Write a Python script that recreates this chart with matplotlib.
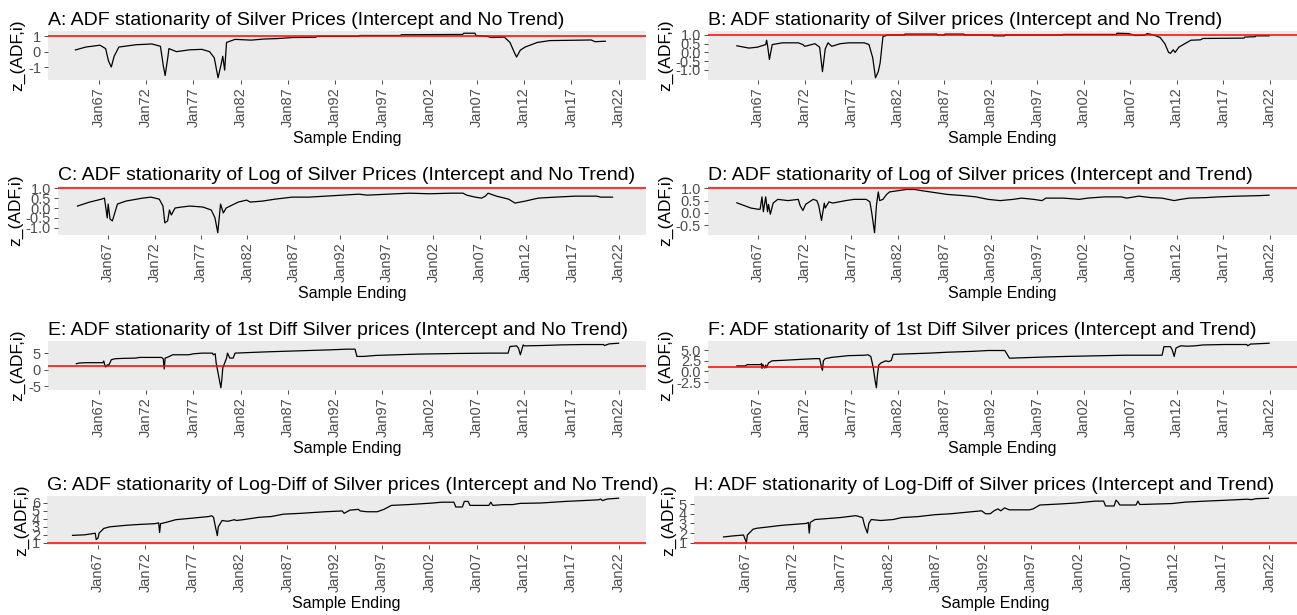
import numpy as np
import matplotlib
matplotlib.use("Agg")
import matplotlib.pyplot as plt

plt.rcParams['font.family'] = ['Liberation Sans', 'DejaVu Sans']

# ---- data: sample ending (decimal year) and z_(ADF,i) values ----
a_years = [1964.5, 1965.6, 1967.1, 1967.7, 1968.0, 1968.3, 1968.6, 1969.1, 1970.9, 1972.6,
           1973.5, 1973.8, 1974.0, 1974.3, 1974.4, 1975.2, 1976.6, 1977.9, 1978.7, 1979.2,
           1979.6, 1979.9, 1980.1, 1980.3, 1980.5, 1981.4, 1983.1, 1984.4, 1985.8, 1987.5,
           1989.9, 1990.1, 1994.5, 1994.6, 1998.9, 1999.0, 2005.5, 2005.6, 2006.8, 2006.9,
           2008.1, 2008.5, 2009.9, 2010.5, 2011.0, 2011.2, 2011.6, 2012.1, 2013.4, 2014.7,
           2019.1, 2019.5, 2020.6]
a_vals = [0.11, 0.3, 0.42, 0.2, -0.6, -1.0, -0.3, 0.3, 0.45, 0.5,
          0.35, -0.9, -1.55, -0.3, 0.2, 0.0, 0.12, 0.15, 0.0, -0.4,
          -1.7, -0.9, -0.3, -1.2, 0.6, 0.8, 0.75, 0.82, 0.85, 0.92,
          0.93, 1.0, 1.0, 1.05, 1.05, 1.1, 1.12, 1.2, 1.2, 1.05,
          1.0, 0.92, 0.95, 0.6, -0.1, -0.35, 0.1, 0.3, 0.6, 0.72,
          0.76, 0.65, 0.68]

b_years = [1964.7, 1966.0, 1966.9, 1967.8, 1967.9, 1968.0, 1968.2, 1968.5, 1969.6, 1971.3,
           1971.8, 1972.0, 1973.1, 1973.6, 1973.9, 1974.2, 1974.5, 1974.9, 1975.8, 1976.7,
           1978.4, 1978.9, 1979.3, 1979.6, 1979.9, 1980.1, 1980.4, 1980.9, 1982.7, 1982.75,
           1986.2, 1986.25, 1987.0, 1987.05, 1989.1, 1989.15, 1992.2, 1992.25, 1993.5, 1993.55,
           1999.7, 1999.75, 2005.5, 2005.55, 2006.8, 2007.5, 2008.5, 2008.8, 2009.5, 2010.2,
           2010.7, 2011.1, 2011.3, 2011.6, 2011.8, 2012.2, 2013.0, 2013.5, 2014.5, 2014.8,
           2019.2, 2019.3, 2020.4, 2020.5, 2021.9]
b_vals = [0.38, 0.25, 0.3, 0.45, 0.7, 0.4, -0.4, 0.45, 0.55, 0.55,
          0.45, 0.35, 0.5, 0.3, -1.1, 0.2, 0.55, 0.35, 0.5, 0.55,
          0.55, 0.45, -0.3, -1.45, -1.1, -0.6, 0.9, 1.0, 1.0, 1.05,
          1.05, 1.0, 1.0, 1.05, 1.05, 1.0, 1.0, 0.95, 0.95, 1.0,
          1.0, 1.03, 1.03, 1.1, 1.08, 0.97, 0.98, 1.08, 1.0, 0.85,
          0.5, 0.0, -0.05, 0.15, 0.0, 0.3, 0.55, 0.7, 0.72, 0.8,
          0.82, 0.88, 0.9, 0.95, 0.95]

c_years = [1963.7, 1965.0, 1966.3, 1966.6, 1966.9, 1967.0, 1967.2, 1967.45, 1968.0, 1968.9,
           1970.7, 1971.6, 1972.5, 1972.9, 1973.1, 1973.4, 1973.6, 1973.8, 1974.2, 1974.9,
           1975.8, 1977.2, 1978.1, 1978.5, 1978.8, 1979.1, 1979.4, 1979.7, 1981.0, 1981.9,
           1982.3, 1983.6, 1985.0, 1986.8, 1988.6, 1990.4, 1992.2, 1994.0, 1994.9, 1997.1,
           1999.4, 2001.6, 2003.9, 2005.2, 2005.6, 2006.5, 2007.2, 2007.6, 2007.9, 2008.8,
           2010.1, 2010.8, 2011.9, 2013.3, 2015.1, 2017.3, 2019.6, 2020.0, 2021.3]
c_vals = [0.1, 0.3, 0.45, 0.5, -0.5, 0.2, -0.55, -0.65, 0.2, 0.35,
          0.5, 0.55, 0.45, 0.1, -0.75, -0.65, -0.1, -0.35, 0.0, 0.05,
          0.1, 0.05, -0.1, -0.5, -1.25, 0.2, -0.25, 0.0, 0.3, 0.4,
          0.3, 0.35, 0.45, 0.55, 0.55, 0.6, 0.65, 0.7, 0.65, 0.7,
          0.75, 0.72, 0.75, 0.75, 0.65, 0.55, 0.5, 0.6, 0.75, 0.6,
          0.45, 0.25, 0.35, 0.5, 0.55, 0.6, 0.6, 0.55, 0.55]

d_years = [1964.7, 1966.2, 1967.0, 1967.2, 1967.4, 1967.55, 1967.8, 1968.0, 1968.1, 1968.3,
           1968.6, 1969.1, 1970.2, 1971.3, 1971.5, 1971.8, 1972.1, 1972.9, 1973.3, 1973.5,
           1973.8, 1974.1, 1974.2, 1974.6, 1975.0, 1976.4, 1977.3, 1978.6, 1979.0, 1979.2,
           1979.5, 1979.7, 1979.9, 1980.05, 1980.4, 1980.8, 1981.1, 1982.0, 1982.9, 1983.8,
           1984.6, 1985.5, 1986.4, 1987.3, 1989.1, 1990.4, 1991.7, 1993.0, 1994.4, 1995.3,
           1996.6, 1997.5, 1997.9, 1999.8, 2001.5, 2002.4, 2004.2, 2006.0, 2006.6, 2007.9,
           2009.2, 2010.4, 2011.7, 2012.4, 2013.3, 2015.1, 2016.4, 2018.6, 2020.8, 2021.9]
d_vals = [0.41, 0.2, 0.15, 0.15, 0.65, 0.05, 0.65, 0.05, 0.35, -0.05,
          0.4, 0.55, 0.5, 0.55, 0.3, 0.1, 0.35, 0.55, 0.5, 0.3,
          -0.3, 0.4, 0.2, 0.45, 0.4, 0.5, 0.55, 0.55, 0.45, 0.0,
          -0.8, 0.3, 0.85, 0.5, 0.55, 0.75, 0.85, 0.9, 0.95, 0.95,
          0.9, 0.85, 0.8, 0.75, 0.7, 0.65, 0.55, 0.5, 0.55, 0.6,
          0.55, 0.5, 0.6, 0.6, 0.55, 0.6, 0.65, 0.65, 0.6, 0.68,
          0.62, 0.6, 0.5, 0.55, 0.6, 0.62, 0.65, 0.68, 0.7, 0.72]

e_years = [1964.6, 1964.9, 1965.6, 1967.4, 1967.5, 1967.6, 1967.7, 1967.9, 1968.0, 1968.15,
           1968.3, 1968.7, 1969.5, 1970.9, 1971.3, 1973.6, 1973.8, 1973.9, 1974.0, 1974.3,
           1974.8, 1976.5, 1977.0, 1977.9, 1979.0, 1979.1, 1979.3, 1979.4, 1979.6, 1979.9,
           1980.0, 1980.1, 1980.3, 1980.5, 1980.6, 1980.85, 1981.2, 1981.4, 1983.1, 1984.9,
           1987.1, 1989.3, 1991.5, 1993.2, 1994.1, 1994.3, 1995.0, 1996.3, 1998.5, 2000.7,
           2002.9, 2005.0, 2008.5, 2010.3, 2010.5, 2011.2, 2011.4, 2011.6, 2011.9, 2012.0,
           2013.8, 2016.0, 2018.2, 2020.4, 2020.5, 2021.0, 2022.0]
e_vals = [1.8, 2.0, 2.1, 2.1, 2.6, 1.5, 0.8, 1.5, 1.2, 2.0,
          3.0, 3.3, 3.4, 3.5, 3.7, 3.7, 3.3, 0.2, 3.5, 3.8,
          4.5, 4.5, 4.8, 5.0, 5.0, 4.5, 4.8, 2.0, -1.0, -5.5,
          -3.0, 0.5, 2.0, 3.5, 5.0, 3.5, 3.5, 5.0, 5.2, 5.4,
          5.6, 5.8, 6.0, 6.2, 6.2, 4.0, 4.0, 4.3, 4.5, 4.7,
          4.8, 4.9, 5.0, 5.0, 7.0, 7.2, 6.5, 4.5, 7.5, 7.2,
          7.3, 7.5, 7.6, 7.6, 7.3, 7.8, 8.0]

f_years = [1964.7, 1965.6, 1965.8, 1967.3, 1967.35, 1967.4, 1967.5, 1967.7, 1967.8, 1967.9,
           1968.1, 1968.5, 1969.6, 1971.3, 1973.1, 1973.6, 1973.8, 1973.9, 1974.0, 1974.2,
           1974.9, 1975.8, 1976.7, 1978.4, 1978.8, 1979.1, 1979.35, 1979.55, 1979.7, 1979.8,
           1979.95, 1980.2, 1980.7, 1981.0, 1981.3, 1981.5, 1982.8, 1985.5, 1987.3, 1990.0,
           1991.7, 1993.5, 1994.0, 1995.3, 1998.0, 1999.8, 2001.9, 2004.2, 2006.4, 2010.4,
           2010.6, 2011.3, 2011.5, 2011.7, 2011.9, 2012.4, 2013.1, 2014.0, 2014.8, 2017.1,
           2019.5, 2019.6, 2019.9, 2021.9]
f_vals = [1.3, 1.3, 1.6, 1.6, 1.9, 0.7, 1.6, 0.8, 1.5, 0.9,
          2.0, 2.5, 2.6, 2.8, 3.0, 3.0, 1.0, 0.3, 2.5, 3.0,
          3.3, 3.5, 3.7, 3.8, 3.9, 3.5, 1.0, -2.0, -3.8, -1.0,
          1.5, 2.0, 2.5, 2.3, 2.6, 4.0, 4.1, 4.3, 4.5, 4.7,
          4.9, 4.9, 3.1, 3.2, 3.4, 3.5, 3.6, 3.7, 3.8, 3.8,
          5.8, 5.8, 5.0, 3.5, 5.5, 6.0, 5.9, 6.0, 6.2, 6.3,
          6.3, 6.0, 6.4, 6.6]

g_years = [1964.3, 1965.6, 1966.7, 1966.8, 1967.0, 1967.1, 1967.6, 1968.2, 1969.1, 1970.0,
           1971.3, 1973.0, 1973.4, 1973.5, 1973.6, 1974.3, 1975.2, 1977.0, 1978.7, 1979.0,
           1979.2, 1979.4, 1979.6, 1979.7, 1980.1, 1980.7, 1981.4, 1981.6, 1982.3, 1984.0,
           1985.3, 1986.6, 1988.4, 1991.0, 1992.8, 1993.0, 1993.6, 1994.5, 1994.7, 1995.4,
           1996.5, 1997.2, 1998.0, 1999.8, 2002.4, 2003.3, 2004.6, 2004.8, 2005.5, 2005.7,
           2006.1, 2006.3, 2008.3, 2008.5, 2008.7, 2009.9, 2010.8, 2011.6, 2013.8, 2015.1,
           2016.4, 2018.2, 2019.9, 2020.1, 2020.3, 2020.8, 2022.0]
g_vals = [1.93, 2.0, 2.2, 1.4, 1.6, 2.2, 2.8, 3.0, 3.1, 3.2,
          3.3, 3.4, 3.5, 2.3, 3.4, 3.6, 3.9, 4.1, 4.3, 4.4,
          4.2, 3.0, 1.9, 3.0, 3.8, 3.7, 3.9, 3.8, 3.9, 4.2,
          4.3, 4.6, 4.7, 4.9, 5.0, 4.7, 5.1, 5.2, 5.0, 4.9,
          4.9, 5.2, 5.7, 5.8, 6.0, 6.1, 6.1, 5.5, 5.5, 6.2,
          6.2, 5.7, 5.7, 6.1, 5.7, 5.8, 5.8, 5.95, 6.0, 6.1,
          6.2, 6.3, 6.4, 6.5, 6.3, 6.5, 6.6]

h_years = [1964.7, 1965.6, 1966.8, 1967.1, 1967.2, 1967.8, 1968.2, 1969.1, 1970.8, 1973.4,
           1973.6, 1973.7, 1973.8, 1974.3, 1975.6, 1976.9, 1978.6, 1979.3, 1979.5, 1979.8,
           1979.95, 1980.2, 1981.2, 1982.5, 1983.4, 1985.1, 1986.9, 1988.6, 1990.7, 1991.8,
           1992.2, 1992.7, 1993.1, 1993.5, 1993.8, 1994.2, 1994.7, 1996.8, 1997.2, 1997.9,
           1999.9, 2001.6, 2003.7, 2004.6, 2004.8, 2005.7, 2005.9, 2006.1, 2006.3, 2008.0,
           2008.2, 2008.4, 2010.1, 2011.8, 2013.2, 2015.3, 2017.6, 2019.7, 2020.1, 2020.6,
           2021.9]
h_vals = [1.6, 1.7, 1.8, 1.0, 1.8, 2.4, 2.5, 2.6, 2.8, 3.0,
          3.1, 2.0, 3.1, 3.4, 3.5, 3.6, 3.8, 3.6, 2.8, 2.0,
          3.0, 3.4, 3.3, 3.4, 3.6, 3.7, 3.9, 4.0, 4.2, 4.3,
          4.0, 4.0, 4.3, 4.5, 4.3, 4.6, 4.4, 4.4, 4.5, 4.9,
          5.0, 5.1, 5.3, 5.3, 4.8, 4.8, 5.4, 5.2, 4.9, 4.9,
          5.3, 4.95, 5.0, 5.05, 5.2, 5.3, 5.4, 5.5, 5.45, 5.55,
          5.6]

titles = [
    "A: ADF stationarity of Silver Prices (Intercept and No Trend)",
    "B: ADF stationarity of Silver prices (Intercept and No Trend)",
    "C: ADF stationarity of Log of Silver Prices (Intercept and No Trend)",
    "D: ADF stationarity of Log of Silver prices (Intercept and Trend)",
    "E: ADF stationarity of 1st Diff Silver prices (Intercept and No Trend)",
    "F: ADF stationarity of 1st Diff Silver prices (Intercept and Trend)",
    "G: ADF stationarity of Log-Diff of Silver prices (Intercept and No Trend)",
    "H: ADF stationarity of Log-Diff of Silver prices (Intercept and Trend)",
]
series = [(a_years, a_vals), (b_years, b_vals), (c_years, c_vals), (d_years, d_vals),
          (e_years, e_vals), (f_years, f_vals), (g_years, g_vals), (h_years, h_vals)]
yticks = [[-1, 0, 1], [-1.0, -0.5, 0.0, 0.5, 1.0], [-1.0, -0.5, 0.0, 0.5, 1.0],
          [-0.5, 0.0, 0.5, 1.0], [-5, 0, 5], [-2.5, 0.0, 2.5, 5.0],
          [1, 2, 3, 4, 5, 6], [1, 2, 3, 4, 5]]
ytick_fmt = ["{:.0f}", "{:.1f}", "{:.1f}", "{:.1f}", "{:.0f}", "{:.1f}", "{:.0f}", "{:.0f}"]
tick_years = list(range(1967, 2023, 5))
tick_labels = ["Jan%02d" % (y % 100) for y in tick_years]
critical = 1.0

# ---- layout in pixels (left, right) per panel and row tops ----
W, H = 1297, 615
lefts = [48, 708, 58, 708, 48, 708, 47, 694]
rights = [646, 1297, 646, 1297, 646, 1297, 646, 1297]
row_tops = [31, 186, 341, 496]
panel_h = 49

fig = plt.figure(figsize=(W / 100, H / 100), dpi=100)
fig.patch.set_facecolor("white")

for i in range(8):
    row = i // 2
    l, r = lefts[i], rights[i]
    top = row_tops[row]
    ax = fig.add_axes([l / W, 1 - (top + panel_h) / H, (r - l) / W, panel_h / H])
    ax.set_facecolor("#EBEBEB")
    for s in ax.spines.values():
        s.set_visible(False)

    xs, ys = series[i]
    ax.plot(xs, ys, color="black", lw=0.9)
    ax.axhline(critical, color="red", lw=1.1)

    lo = min(min(ys), critical)
    hi = max(max(ys), critical)
    pad = (hi - lo) * 0.05
    ax.set_ylim(lo - pad, hi + pad)
    ax.set_xlim(1961.6, 2024.9)

    ax.set_yticks(yticks[i])
    ax.set_yticklabels([ytick_fmt[i].format(v) for v in yticks[i]])
    ax.set_xticks(tick_years)
    ax.set_xticklabels(tick_labels, rotation=90)
    ax.tick_params(axis="both", colors="#333333", length=3, width=0.6,
                   labelsize=10.5, labelcolor="#4D4D4D", pad=2)

    ax.set_title(titles[i], loc="left", fontsize=14, pad=4)
    ax.set_xlabel("Sample Ending", fontsize=11.5, labelpad=3)
    ax.set_ylabel("z_(ADF,i)", fontsize=12.5, labelpad=2)

fig.savefig("out.png", dpi=100)
